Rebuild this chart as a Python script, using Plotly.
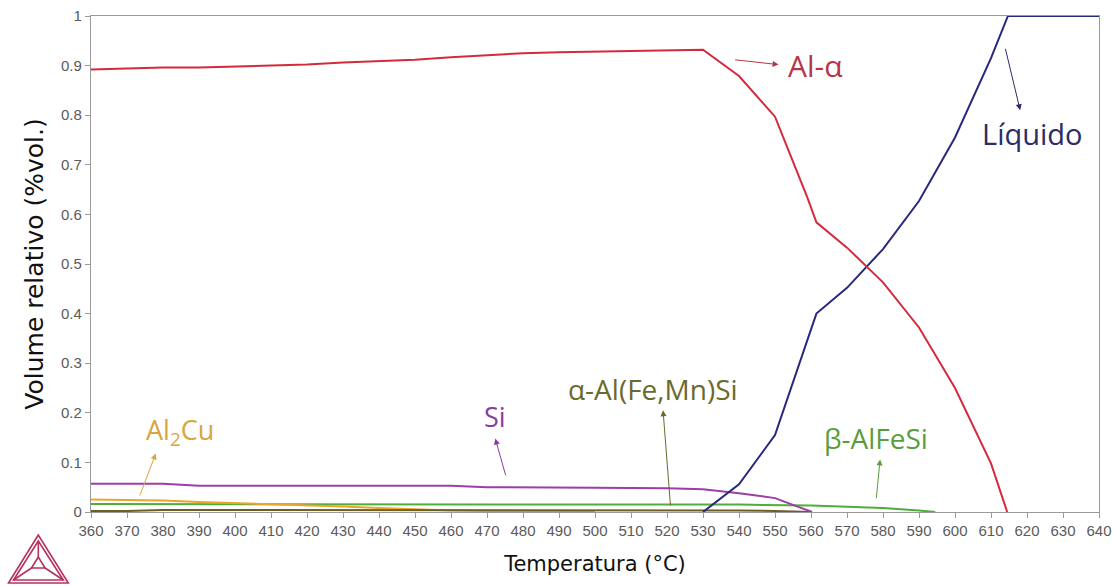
import plotly.graph_objects as go

# Phase fractions vs temperature (Thermo-Calc style equilibrium plot)
t_al = [360, 370, 380, 390, 400, 410, 420, 430, 440, 450, 460, 470, 480, 490, 500, 510, 520, 530,
        540, 550, 559, 561.5, 570, 580, 590, 600, 610, 614.5]
v_al = [0.892, 0.894, 0.896, 0.896, 0.898, 0.900, 0.902, 0.906, 0.909, 0.912, 0.917, 0.921, 0.925, 0.927,
        0.928, 0.929, 0.930, 0.932, 0.879, 0.797, 0.634, 0.584, 0.533, 0.463, 0.372, 0.250, 0.098, 0.0]

t_liq = [530, 540, 550, 559, 561.5, 570, 580, 590, 600, 610, 614.7, 620, 630, 640]
v_liq = [0.0, 0.056, 0.155, 0.346, 0.400, 0.452, 0.530, 0.627, 0.755, 0.915, 1.0, 1.0, 1.0, 1.0]

t_si = [360, 380, 390, 400, 420, 440, 460, 470, 480, 500, 520, 530, 540, 550, 560.3]
v_si = [0.057, 0.057, 0.053, 0.053, 0.053, 0.053, 0.053, 0.050, 0.050, 0.049, 0.048, 0.046, 0.038, 0.028, 0.0]

t_beta = [360, 380, 400, 420, 440, 460, 480, 500, 520, 540, 560, 570, 580, 590, 594.5]
v_beta = [0.016, 0.016, 0.016, 0.016, 0.015, 0.015, 0.015, 0.015, 0.015, 0.015, 0.013, 0.011, 0.008, 0.003, 0.0]

t_cu = [360, 370, 380, 390, 400, 410, 420, 430, 440, 450, 460, 470, 480, 490, 500]
v_cu = [0.025, 0.024, 0.023, 0.020, 0.018, 0.016, 0.014, 0.011, 0.008, 0.005, 0.003, 0.002, 0.001, 0.0005, 0.0]

t_amn = [360, 370, 380, 400, 420, 440, 460, 480, 500, 520, 530, 540, 550, 560]
v_amn = [0.002, 0.002, 0.004, 0.004, 0.004, 0.004, 0.004, 0.004, 0.004, 0.004, 0.004, 0.003, 0.002, 0.0]

x_ticks = list(range(360, 641, 10))
y_ticks = [0, 0.1, 0.2, 0.3, 0.4, 0.5, 0.6, 0.7, 0.8, 0.9, 1]
y_tick_text = ["0", "0.1", "0.2", "0.3", "0.4", "0.5", "0.6", "0.7", "0.8", "0.9", "1"]

C_AL = "#d42a3c"
C_LIQ = "#27287e"
C_SI = "#9a3fa6"
C_BETA = "#4fae3a"
C_CU = "#eaa52c"
C_AMN = "#6b5f22"

fig = go.Figure()
series = [
    (t_beta, v_beta, C_BETA),
    (t_cu, v_cu, C_CU),
    (t_amn, v_amn, C_AMN),
    (t_si, v_si, C_SI),
    (t_liq, v_liq, C_LIQ),
    (t_al, v_al, C_AL),
]
for tx, vy, col in series:
    fig.add_trace(go.Scatter(x=tx, y=vy, mode="lines", line=dict(color=col, width=2),
                             showlegend=False, hoverinfo="skip"))

ann_font = "Open Sans, DejaVu Sans, sans-serif"
labels = [
    # text, text position, arrow tail, arrow head, colour, size
    ("Al-α", (561.2, 0.900), (538.5, 0.912), (551.0, 0.902), "#b5364a", 30),
    ("Líquido", (621.5, 0.763), (613.9, 0.937), (618.1, 0.810), "#2b2c68", 29),
    ("Al<sub>2</sub>Cu", (384.8, 0.162), (373.4, 0.030), (378.0, 0.118), "#d8a640", 27),
    ("Si", (472.3, 0.192), (475.3, 0.071), (472.3, 0.148), "#8a3d9a", 27),
    ("α-Al(Fe,Mn)Si", (516.0, 0.249), (521.0, 0.010), (518.9, 0.205), "#6b6a2c", 28),
    ("β-AlFeSi", (578.1, 0.150), (578.1, 0.025), (579.2, 0.106), "#5a9e3c", 28),
]
for text, (tx, ty), (ax, ay), (hx, hy), col, size in labels:
    fig.add_annotation(x=tx, y=ty, xref="x", yref="y", text=text, showarrow=False,
                       font=dict(family=ann_font, size=size, color=col))
    fig.add_annotation(x=hx, y=hy, ax=ax, ay=ay, xref="x", yref="y", axref="x", ayref="y",
                       text="", showarrow=True, arrowhead=2, arrowsize=1.2, arrowwidth=1,
                       arrowcolor=col, standoff=0, startstandoff=0)

# Thermo-Calc triangle logo, placed in the bottom-left corner
W, H, L, T = 1114, 586, 91, 16
PW, PH = W - L - 15, H - T - 74


def px(xp, yp):
    return (xp - L) / PW, (T + PH - yp) / PH


def path(points):
    pts = [px(a, b) for a, b in points]
    return "M " + " L ".join(f"{a:.5f},{b:.5f}" for a, b in pts) + " Z"


logo_col = "#b8305e"
outer = [(38.3, 535), (8.5, 583), (68.3, 583)]
inner = [(38.3, 541), (13.5, 580), (63.3, 580)]
core = [(38.3, 557), (31.5, 568), (45.1, 568)]
for tri in (outer, inner, core):
    fig.add_shape(type="path", path=path(tri), xref="paper", yref="paper",
                  line=dict(color=logo_col, width=1.6))
for (a, b), (c, d) in zip(core, inner):
    x0, y0 = px(a, b)
    x1, y1 = px(c, d)
    fig.add_shape(type="line", x0=x0, y0=y0, x1=x1, y1=y1, xref="paper", yref="paper",
                  line=dict(color=logo_col, width=1.6))

axis_common = dict(showline=True, linecolor="#9a9a9a", linewidth=1.2, mirror=True,
                   showgrid=False, zeroline=False, ticks="outside", ticklen=5,
                   tickcolor="#9a9a9a", automargin=False,
                   tickfont=dict(family="Liberation Sans, Arial, sans-serif", size=15, color="#5a5a5a"))

fig.update_xaxes(range=[360, 640], tickvals=x_ticks, ticktext=[str(v) for v in x_ticks],
                 title=dict(text="Temperatura (°C)", standoff=18,
                            font=dict(family="DejaVu Sans, Verdana, sans-serif", size=21, color="#111111")),
                 **axis_common)
fig.update_yaxes(range=[0, 1], tickvals=y_ticks, ticktext=y_tick_text,
                 title=dict(text="Volume relativo (%vol.)", standoff=10,
                            font=dict(family="DejaVu Sans, Verdana, sans-serif", size=25, color="#111111")),
                 **axis_common)

fig.update_layout(width=W, height=H, margin=dict(l=L, r=15, t=T, b=74),
                  plot_bgcolor="white", paper_bgcolor="white")

fig.write_html("out.html", include_plotlyjs=True, full_html=True)
